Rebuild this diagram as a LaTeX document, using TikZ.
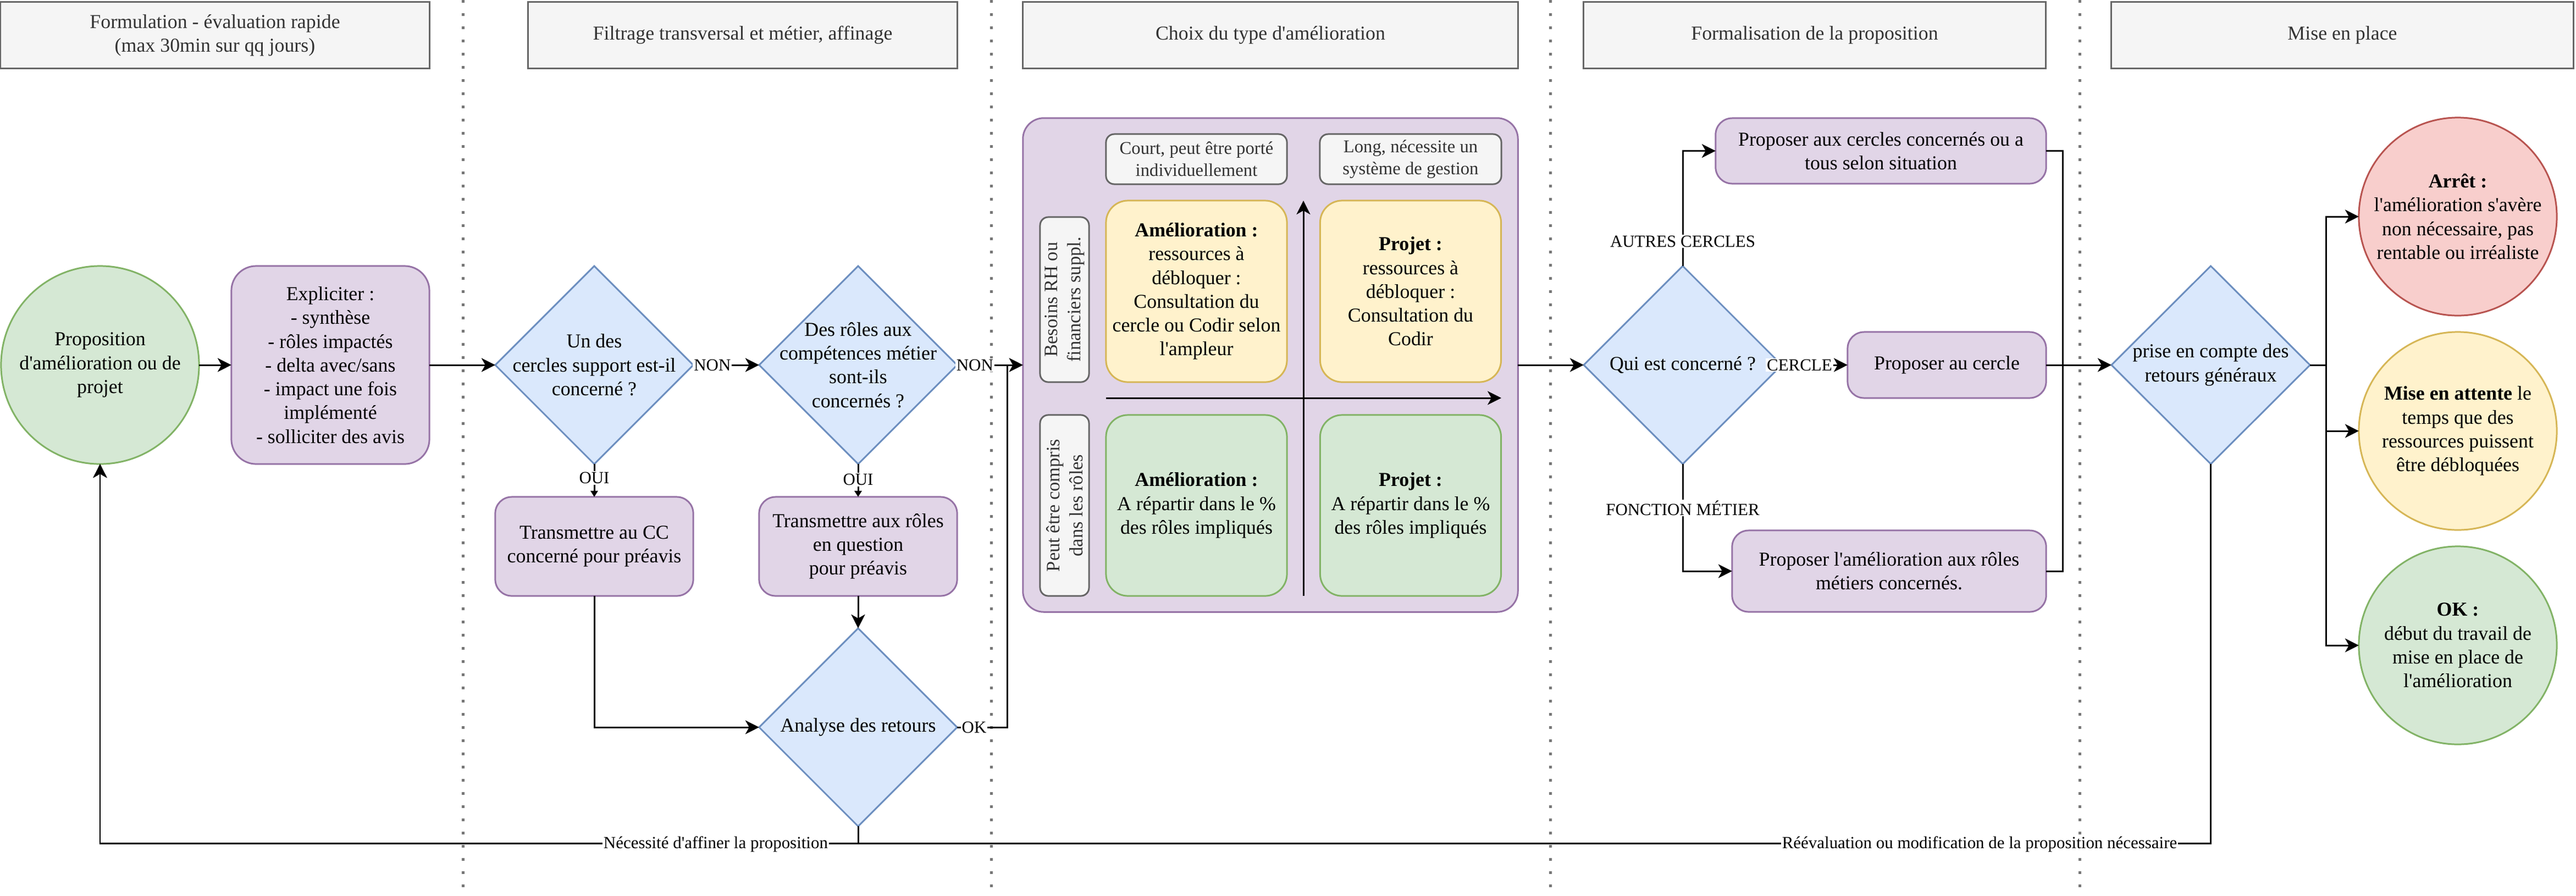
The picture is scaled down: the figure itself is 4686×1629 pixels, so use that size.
\documentclass[tikz,border=0pt]{standalone}
\usepackage{fontspec}
\setmainfont{Liberation Serif}[Ligatures=TeXOff]
\usetikzlibrary{shapes.geometric,arrows.meta}
\definecolor{purF}{HTML}{E1D5E7}\definecolor{purD}{HTML}{9673A6}
\definecolor{bluF}{HTML}{DAE8FC}\definecolor{bluD}{HTML}{6C8EBF}
\definecolor{grnF}{HTML}{D5E8D4}\definecolor{grnD}{HTML}{82B366}
\definecolor{yelF}{HTML}{FFF2CC}\definecolor{yelD}{HTML}{D6B656}
\definecolor{redF}{HTML}{F8CECC}\definecolor{redD}{HTML}{B85450}
\definecolor{gryF}{HTML}{F5F5F5}\definecolor{gryD}{HTML}{666666}\definecolor{gryT}{HTML}{333333}
\definecolor{sepC}{HTML}{777777}
\begin{document}
\begin{tikzpicture}[x=0.01cm,y=-0.01cm,line width=0.85pt,
  every node/.style={inner sep=0pt,outer sep=0pt},
  mtxt/.style={font=\fontsize{10.2}{12.3}\selectfont,align=center},
  stxt/.style={font=\fontsize{9.3}{11.4}\selectfont,align=center},
  rtxt/.style={font=\fontsize{9.8}{11.8}\selectfont,align=center},
  hdr/.style={draw=gryD,fill=gryF,text=gryT,mtxt,minimum height=1.2cm},
  pbox/.style={draw=purD,fill=purF,rounded corners=0.3cm,mtxt},
  ybox/.style={draw=yelD,fill=yelF,rounded corners=0.4cm,mtxt,minimum width=3.29cm,minimum height=3.3cm},
  gnbox/.style={draw=grnD,fill=grnF,rounded corners=0.4cm,mtxt,minimum width=3.29cm,minimum height=3.29cm},
  gbox/.style={draw=gryD,fill=gryF,text=gryT,rounded corners=0.15cm,stxt},
  dia/.style={diamond,draw=bluD,fill=bluF,minimum width=3.6cm,minimum height=3.6cm},
  rnd/.style={circle,minimum size=3.6cm},
  elab/.style={fill=white,font=\fontsize{8.8}{10.6}\selectfont,inner sep=0.02cm},
  arr/.style={-{Stealth[length=0.25cm,width=0.25cm,inset=0.07cm]}},
  sarr/.style={-{Triangle[length=0.11cm,width=0.13cm]}},
  lanesep/.style={draw=sepC,line width=0.05cm,dash pattern=on 0.05cm off 0.19cm}]
\useasboundingbox (0,0) rectangle (4686,1629);

% lane separators
\draw[lanesep] (842,0) -- (842,1629);
\draw[lanesep] (1803,0) -- (1803,1629);
\draw[lanesep] (2820,0) -- (2820,1629);
\draw[lanesep] (3783,0) -- (3783,1629);

% headers
\node[hdr,minimum width=7.8cm] (h1) at (391,64) {Formulation - évaluation rapide\\(max 30min sur qq jours)};
\node[hdr,minimum width=7.8cm] (h2) at (1351,64) {Filtrage transversal et métier, affinage};
\node[hdr,minimum width=9.0cm] (h3) at (2311,64) {Choix du type d'amélioration};
\node[hdr,minimum width=8.4cm] (h4) at (3301,64) {Formalisation de la proposition};
\node[hdr,minimum width=8.4cm] (h5) at (4261,64) {Mise en place};

% lane 1
\node[rnd,draw=grnD,fill=grnF] (prop) at (182,664) {};
\node[mtxt] (propt) at (prop) {Proposition\\d'amélioration ou de\\projet};
\node[pbox,minimum width=3.6cm,minimum height=3.6cm,rounded corners=0.45cm] (expl) at (601,664)
  {Expliciter :\\- synthèse\\- rôles impactés\\- delta avec/sans\\- impact une fois\\implémenté\\- solliciter des avis};

% lane 2
\node[dia] (d1) at (1081,664) {};
\node[mtxt] (d1t) at (d1) {Un des\\cercles support est-il\\concerné ?};
\node[dia] (d2) at (1561,664) {};
\node[mtxt] (d2t) at (d2) {Des rôles aux\\compétences métier\\sont-ils\\concernés ?};
\node[pbox,minimum width=3.6cm,minimum height=1.8cm] (t1) at (1081,994) {Transmettre au CC\\concerné pour préavis};
\node[pbox,minimum width=3.6cm,minimum height=1.8cm] (t2) at (1561,994) {Transmettre aux rôles\\en question\\pour préavis};
\node[dia] (anal) at (1561,1323) {};
\node[mtxt] (analt) at (anal) {Analyse des retours};

% lane 3
\node[pbox,minimum width=9.0cm,minimum height=8.98cm,rounded corners=0.38cm] (big) at (2311,664) {};
\node[gbox,minimum width=3.29cm,minimum height=0.91cm] (court) at (2176.5,289.5) {Court, peut être porté\\individuellement};
\node[gbox,minimum width=3.30cm,minimum height=0.91cm] (long) at (2566,289.5) {Long, nécessite un\\système de gestion};
\node[gbox,minimum width=0.89cm,minimum height=3.0cm] (s1) at (1936.5,545) {};
\node[rtxt,text=gryT,rotate=90] (s1t) at (s1) {Besoins RH ou\\financiers suppl.};
\node[gbox,minimum width=0.89cm,minimum height=3.29cm] (s2) at (1936.5,919.5) {};
\node[rtxt,text=gryT,rotate=90] (s2t) at (s2) {Peut être compris\\dans les rôles};
\node[ybox] (ya) at (2176.5,530) {\textbf{Amélioration :}\\ressources à\\débloquer :\\Consultation du\\cercle ou Codir selon\\l'ampleur};
\node[ybox] (yp) at (2566,530) {\textbf{Projet :}\\ressources à\\débloquer :\\Consultation du\\Codir};
\node[gnbox] (ga) at (2176.5,919.5) {\textbf{Amélioration :}\\A répartir dans le \%\\des rôles impliqués};
\node[gnbox] (gp) at (2566,919.5) {\textbf{Projet :}\\A répartir dans le \%\\des rôles impliqués};
\coordinate (vb) at (2371,1084);
\coordinate (vt) at (2371,365);
\coordinate (hl) at (2012,724);
\coordinate (hr) at (2731,724);
\draw[arr] (vb) -- (vt);
\draw[arr] (hl) -- (hr);

% lane 4
\node[dia] (qui) at (3061,664) {};
\node[mtxt] (quit) at (qui) {Qui est concerné ?};
\node[pbox,minimum width=6.01cm,minimum height=1.19cm] (pa) at (3421.5,274.5) {Proposer aux cercles concernés ou a\\tous selon situation};
\node[pbox,minimum width=3.61cm,minimum height=1.2cm] (pc) at (3541.5,664) {Proposer au cercle};
\node[pbox,minimum width=5.71cm,minimum height=1.48cm] (pm) at (3436.5,1039) {Proposer l'amélioration aux rôles\\métiers concernés.};

% lane 5
\node[dia,minimum width=3.61cm] (prise) at (4021.5,664) {};
\node[mtxt] (priset) at (prise) {prise en compte des\\retours généraux};
\node[rnd,draw=redD,fill=redF] (arret) at (4471,394) {};
\node[mtxt] (arrett) at (arret) {\textbf{Arrêt :}\\l'amélioration s'avère\\non nécessaire, pas\\rentable ou irréaliste};
\node[rnd,draw=yelD,fill=yelF] (mise) at (4471,784) {};
\node[mtxt] (miset) at (mise) {\textbf{Mise en attente} le\\temps que des\\ressources puissent\\être débloquées};
\node[rnd,draw=grnD,fill=grnF] (okn) at (4471,1174) {};
\node[mtxt] (oknt) at (okn) {\textbf{OK :}\\début du travail de\\mise en place de\\l'amélioration};

% helper coordinates
\coordinate (okc) at (1832,1323);
\coordinate (col) at (3752,664);
\coordinate (fan) at (4231,664);
\coordinate (fbl) at (182,1534);

% connectors
\draw[arr] (prop) -- (expl);
\draw[arr] (expl) -- (d1);
\draw[arr] (d1) -- node[elab,pos=0.29] {NON} (d2);
\draw[sarr] (d1) -- node[elab,pos=0.43] {OUI} (t1);
\draw[sarr] (d2) -- node[elab,pos=0.47] {OUI} (t2);
\draw[arr] (t2) -- (anal);
\draw[arr] (t1.south) |- (anal.west);
\draw[arr] (d2.east) -- node[elab,pos=0.27] {NON} (big.west);
\draw[arr] (anal.east) -- node[elab,pos=0.34] {OK} (okc) |- (big.west);
\draw[arr] (anal.south) |- (fbl) -- (prop.south);
\draw[arr] (prise.south) |- (fbl) -- (prop.south);
\node[elab] (lab1) at (1302,1536) {Nécessité d'affiner la proposition};
\node[elab] (lab2) at (3601,1536) {Réévaluation ou modification de la proposition nécessaire};

\draw[arr] (big.east) -- (qui.west);
\draw[arr] (qui.north) |- (pa.west);
\node[elab] (labA) at (3061,439) {AUTRES CERCLES};
\draw[arr] (qui.east) -- node[elab,pos=0.27] {CERCLE} (pc.west);
\draw[arr] (qui.south) |- (pm.west);
\node[elab] (labF) at (3061,924) {FONCTION MÉTIER};

\draw (pa.east) -| (col);
\draw (pm.east) -| (col);
\draw[arr] (pc.east) -- (prise.west);

\draw[arr] (prise.east) -- (fan) |- (arret.west);
\draw[arr] (prise.east) -- (fan) |- (mise.west);
\draw[arr] (prise.east) -- (fan) |- (okn.west);
\end{tikzpicture}
\end{document}
